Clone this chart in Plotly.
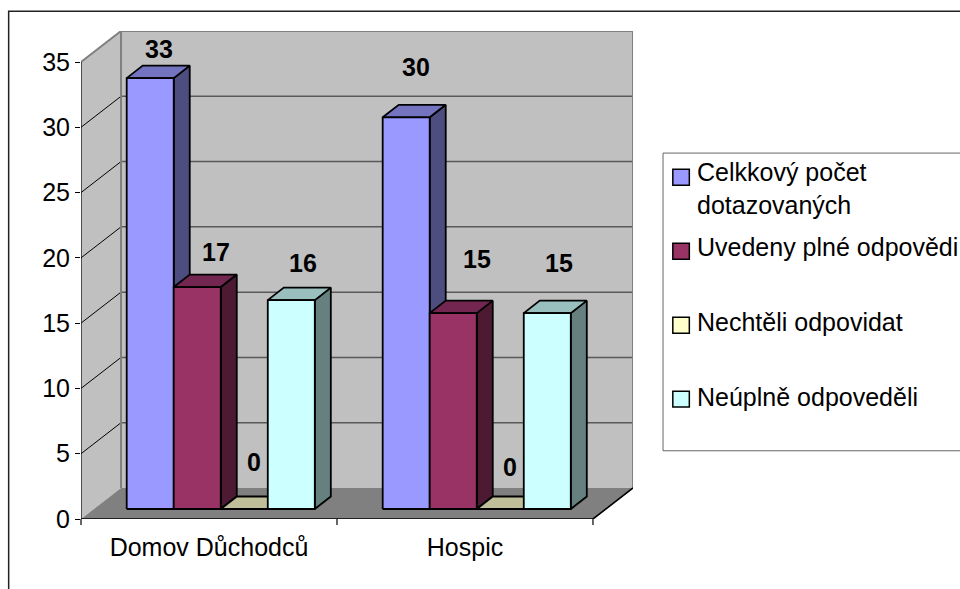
import plotly.graph_objects as go

# Survey counts per facility
categories = ["Domov Důchodců", "Hospic"]
series_names = ["Celkkový počet dotazovaných", "Uvedeny plné odpovědi",
                "Nechtěli odpovidat", "Neúplně odpoveděli"]
celkem = [33, 30]
plne = [17, 15]
nechteli = [0, 0]
neuplne = [16, 15]
series_values = [celkem, plne, nechteli, neuplne]
y_ticks = [0, 5, 10, 15, 20, 25, 30, 35]

# Face colours: front, top, side
front_colors = ["#9999FF", "#993366", "#FFFFCC", "#CCFFFF"]
top_colors = ["#7373BF", "#732650", "#BFBF99", "#99BFBF"]
side_colors = ["#4D4D80", "#4D1A33", "#808066", "#668080"]

# Page geometry (pixels) of the plotting box
W, H = 960, 589
L, R, T, B = 81.0, 632.7, 30.5, 519.0
PX_X = (592.7 - 81.0) / 2          # pixels per category
PX_Y = 457.0 / 35                  # pixels per count

# Oblique projection offsets, in axis units
DEPTH_X = (R - L - 2 * PX_X) / PX_X
DEPTH_Y = 31.0 / PX_Y
FRONT_X, FRONT_Y = 11.75 / PX_X, 10.0 / PX_Y    # bar front plane
BAR_DX, BAR_DY = 16.0 / PX_X, 12.5 / PX_Y       # bar depth
BAR_W = 47.0 / PX_X

# Label offsets from each bar's front-top centre, in pixels (series, category)
label_shift = {
    (0, 0): (8.5, 29), (1, 0): (18.5, 35), (2, 0): (10, 47), (3, 0): (12, 37),
    (0, 1): (9.5, 50), (1, 1): (23.5, 54), (2, 1): (10, 42), (3, 1): (11.75, 50),
}

fig = go.Figure()


def poly(xs, ys, fill=None, line="rgba(0,0,0,0)", width=1.0):
    fig.add_trace(go.Scatter(
        x=xs, y=ys, mode="lines",
        fill="toself" if fill else "none", fillcolor=fill,
        line=dict(color=line, width=width),
        hoverinfo="skip", showlegend=False, cliponaxis=False,
    ))


top_y = max(y_ticks)
# Walls and floor
poly([0, 0, DEPTH_X, DEPTH_X, 0], [0, top_y, top_y + DEPTH_Y, DEPTH_Y, 0], "#C0C0C0")
poly([DEPTH_X, DEPTH_X, 2 + DEPTH_X, 2 + DEPTH_X, DEPTH_X],
     [DEPTH_Y, top_y + DEPTH_Y, top_y + DEPTH_Y, DEPTH_Y, DEPTH_Y], "#C0C0C0")
poly([0, 2, 2 + DEPTH_X, DEPTH_X, 0], [0, 0, DEPTH_Y, DEPTH_Y, 0], "#808080")

# Gridlines on the back wall and on the side wall
for t in y_ticks[1:-1]:
    poly([DEPTH_X, 2 + DEPTH_X], [t + DEPTH_Y, t + DEPTH_Y], line="#595959", width=1.5)
    poly([0, DEPTH_X], [t, t + DEPTH_Y], line="#000000", width=1)

# Wall edges
poly([0, DEPTH_X, 2 + DEPTH_X, 2 + DEPTH_X], [top_y, top_y + DEPTH_Y, top_y + DEPTH_Y, DEPTH_Y],
     line="#808080", width=2)
poly([DEPTH_X, DEPTH_X], [DEPTH_Y, top_y + DEPTH_Y], line="#808080", width=2)

# Bars, painted left to right so each front hides its neighbour's side
annotations = []
for c in range(len(categories)):
    for s, values in enumerate(series_values):
        v = values[c]
        x0 = c + 0.5 + FRONT_X + (s - 2) * BAR_W
        x1 = x0 + BAR_W
        y0 = FRONT_Y
        y1 = FRONT_Y + v
        poly([x1, x1 + BAR_DX, x1 + BAR_DX, x1, x1], [y0, y0 + BAR_DY, y1 + BAR_DY, y1, y0],
             side_colors[s], "#000000", 1.8)
        poly([x0, x1, x1 + BAR_DX, x0 + BAR_DX, x0], [y1, y1, y1 + BAR_DY, y1 + BAR_DY, y1],
             top_colors[s], "#000000", 1.8)
        poly([x0, x1, x1, x0, x0], [y0, y0, y1, y1, y0], front_colors[s], "#000000", 1.8)
        dx, dy = label_shift[(s, c)]
        annotations.append(dict(
            x=(x0 + x1) / 2, y=y1, xref="x", yref="y", text=f"<b>{v}</b>",
            showarrow=False, xanchor="center", yanchor="middle",
            xshift=dx, yshift=dy, font=dict(size=25, color="#000000"),
        ))

# Axis lines on the front plane
poly([0, 0], [0, top_y], line="#000000", width=1.2)
poly([0, 2, 2 + DEPTH_X], [0, 0, DEPTH_Y], line="#000000", width=1.6)


def px(x):
    return (x - L) / (R - L)


def py(y):
    return (B - y) / (B - T)


shapes = []


def rect_shape(x0, y0, x1, y1, line, width, fill="rgba(0,0,0,0)"):
    shapes.append(dict(type="rect", xref="paper", yref="paper",
                       x0=px(x0), x1=px(x1), y0=py(y0), y1=py(y1),
                       line=dict(color=line, width=width), fillcolor=fill, layer="above"))


# Category separators below the floor edge
for edge in range(len(categories) + 1):
    edge_x = px(L + edge * PX_X)
    shapes.append(dict(type="line", xref="paper", yref="paper",
                       x0=edge_x, x1=edge_x, y0=py(B), y1=py(B + 6),
                       line=dict(color="#000000", width=1.2), layer="above"))

# Outer chart frame runs off the page on the right and bottom
rect_shape(8.7, 10.7, 990, 620, "#222222", 1.5)
# Legend box also runs off the right edge
rect_shape(662.7, 152.7, 990, 450.7, "#666666", 1)

# Legend: swatch top per entry, then text lines
legend_rows = [
    (169, [(172, "Celkkový počet"), (205, "dotazovaných")]),
    (243, [(247, "Uvedeny plné odpovědi")]),
    (317, [(322, "Nechtěli odpovidat")]),
    (391, [(397, "Neúplně odpoveděli")]),
]
for i, (swatch_top, lines) in enumerate(legend_rows):
    rect_shape(672.5, swatch_top, 689, swatch_top + 16, "#000000", 1.5, front_colors[i])
    for line_y, text in lines:
        annotations.append(dict(
            x=px(694.5), y=py(line_y), xref="paper", yref="paper", text=text,
            showarrow=False, xanchor="left", yanchor="middle",
            font=dict(size=25, color="#000000"),
        ))

fig.update_layout(
    width=W, height=H,
    margin=dict(l=L, r=W - R, t=T, b=H - B, pad=0, autoexpand=False),
    paper_bgcolor="#FFFFFF", plot_bgcolor="#FFFFFF",
    font=dict(family="Liberation Sans, Arial, sans-serif", size=25, color="#000000"),
    showlegend=False,
    annotations=annotations,
    shapes=shapes,
    xaxis=dict(
        range=[0, 2 + DEPTH_X], showgrid=False, zeroline=False, showline=False,
        tickmode="array", tickvals=[i + 0.5 for i in range(len(categories))], ticktext=categories,
        ticks="", tickfont=dict(size=25), ticklabelstandoff=11,
    ),
    yaxis=dict(
        range=[0, top_y + DEPTH_Y], showgrid=False, zeroline=False, showline=False,
        tickmode="array", tickvals=y_ticks, ticks="outside", ticklen=5,
        tickcolor="#000000", tickwidth=1.2, tickfont=dict(size=25),
    ),
)

fig.write_html("out.html")
